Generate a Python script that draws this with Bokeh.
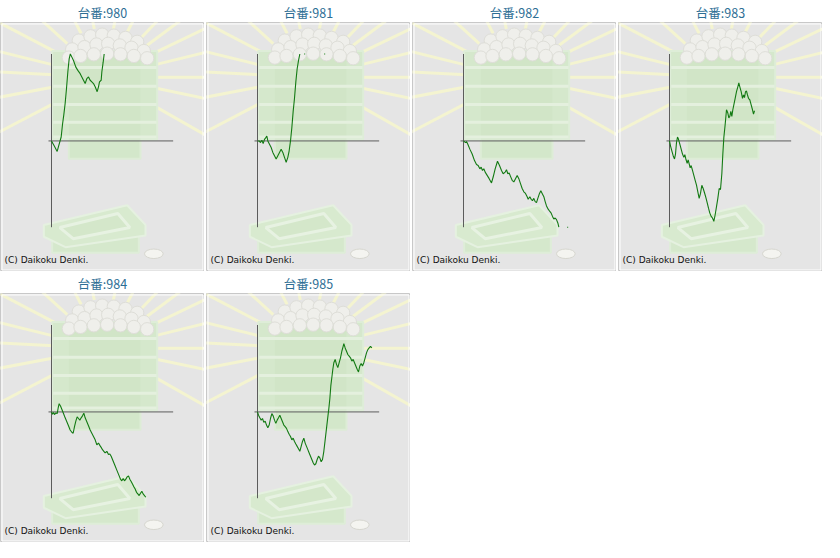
import math
import numpy as np
from bokeh.plotting import figure
from bokeh.layouts import row, column
from bokeh.models import Range1d, Label
from bokeh.embed import file_html
from bokeh.resources import INLINE

NaN = float("nan")

# ---------------- data (games on x, coin difference on y) ----------------
machines = ["980", "981", "982", "983", "984", "985"]

games_980 = [0, 160, 340, 460, 580, 660, 740, 820, 900, 980, 1060, 1130, 1180, 1320, 1460, 1580, 1720,
             1820, 1920, 2020, 2120, 2220, 2320, 2420, 2520, 2620, 2740, 2820, 2880, 2980, 3020, 3100, 3160]
coins_980 = [0, -300, -640, -200, 240, 1000, 1600, 2300, 3200, 4200, 5000, 5300, 5200, 4900, 4500, 4300, 4100,
             3900, 3700, 3500, 3800, 3900, 3700, 3600, 3500, 3300, 3000, 3300, 3600, 3700, 4200, 4800, 5300]

games_981 = [0, 100, 180, 260, 340, 420, 500, 560, 620, 720, 820, 920, 1020, 1120, 1220, 1320, 1420, 1520,
             1620, 1720, 1820, 1900, 1980, 2060, 2140, 2220, 2300, 2380, 2460, 2540, NaN, 2800, 2860, NaN,
             4000, 4060]
coins_981 = [0, 0, -100, 40, -160, 100, 200, 300, 0, -200, -400, -700, -900, -1100, -900, -700, -500, -700,
             -1000, -1300, -1000, -600, 0, 800, 1800, 2600, 3600, 4400, 4900, 5300, NaN, 5300, 5300, NaN,
             5300, 5300]

games_982 = [0, 120, 180, 260, 380, 520, 660, 780, 880, 980, 1060, 1140, 1220, 1300, 1420, 1540, 1680, 1780,
             1900, 2040, 2160, 2280, 2380, 2500, 2580, 2660, 2740, 2820, 2920, 3020, 3120, 3220, 3320, 3420,
             3520, 3620, 3720, 3820, 3880, 3980, 4060, 4140, 4220, 4300, 4380, 4460, 4560, 4640, 4720, 4820,
             4900, 4980, 5080, 5180, 5260, 5340, 5420, 5500, 5580, 5660, 5720, NaN, 6220, 6280]
coins_982 = [0, -100, -40, -200, -500, -800, -1200, -1440, -1500, -1700, -1600, -1800, -1700, -1900, -2100,
             -2300, -2560, -2200, -1700, -1240, -1500, -1800, -2000, -1900, -1760, -2000, -1960, -2160, -2400,
             -2500, -2300, -2100, -2300, -2600, -2900, -3100, -3200, -3400, -3560, -3400, -3560, -3640, -3500,
             -3700, -3760, -3500, -3200, -3040, -3200, -3400, -3700, -3960, -4160, -4300, -4400, -4600, -4760,
             -4700, -4800, -5000, -5260, NaN, -5260, -5260]

games_983 = [0, 60, 140, 220, 300, 360, 420, 480, 540, 620, 700, 780, 860, 920, 980, 1060, 1120, 1180, 1240,
             1300, 1380, 1460, 1540, 1620, 1700, 1780, 1860, 1940, 2020, 2100, 2180, 2260, 2340, 2420, 2500,
             2580, 2660, 2740, 2820, 2900, 2980, 3060, 3140, 3200, 3260, 3340, 3420, 3500, 3560, 3620, 3680,
             3740, 3800, 3860, 3940, 4020, 4100, 4160, 4220, 4300, 4380, 4440, 4500, 4560, 4620, 4680, 4740,
             4820, 4900, 4980, 5040, 5100]
coins_983 = [0, -300, -600, -900, -1100, -800, -100, 240, 100, -200, -500, -800, -1000, -840, -1100, -1360,
             -1160, -1400, -1640, -1500, -1800, -2100, -2400, -2700, -3100, -3500, -3200, -2700, -2900, -3160,
             -3440, -3760, -4100, -4400, -4600, -4700, -4900, -4500, -4000, -3500, -2900, -2960, -2000, -800,
             200, 1000, 1900, 1700, 1400, 1500, 1800, 1500, 1900, 2200, 2600, 3000, 3300, 3540, 3300, 3000,
             2600, 2800, 2640, 3000, 3040, 2800, 2600, 2500, 2200, 1900, 1640, 1840]

games_984 = [0, 60, 120, 180, 260, 340, 400, 460, 540, 620, 720, 820, 920, 1020, 1120, 1220, 1300, 1380, 1460,
             1540, 1620, 1700, 1780, 1860, 1940, 2020, 2120, 2220, 2320, 2420, 2520, 2620, 2720, 2820, 2900,
             2980, 3060, 3140, 3220, 3320, 3420, 3500, 3580, 3660, 3740, 3820, 3900, 3980, 4060, 4140, 4220,
             4300, 4380, 4460, 4540, 4620, 4700, 4780, 4860, 4940, 5020, 5100, 5180, 5260, 5340, 5420, 5500,
             5580, 5660]
coins_984 = [0, -140, -40, -160, -60, -100, 240, 500, 360, 160, -100, -360, -600, -840, -1100, -1240, -1300,
             -900, -560, -300, -400, -500, -360, -240, -80, -360, -600, -840, -1100, -1300, -1500, -1700, -2000,
             -1900, -2040, -2160, -2300, -2400, -2500, -2400, -2600, -2560, -2700, -2900, -3100, -3300, -3500,
             -3700, -3900, -4100, -4200, -4060, -4200, -4100, -3960, -3900, -4100, -4240, -4400, -4560, -4700,
             -4900, -5000, -5100, -4960, -4840, -5000, -5100, -5200]

games_985 = [0, 60, 140, 220, 300, 380, 460, 540, 620, 700, 780, 860, 940, 1020, 1100, 1180, 1260, 1340, 1420,
             1500, 1580, 1660, 1740, 1820, 1900, 1980, 2060, 2140, 2220, 2300, 2380, 2460, 2540, 2620, 2700,
             2780, 2860, 2940, 3020, 3100, 3180, 3260, 3340, 3420, 3500, 3580, 3660, 3740, 3820, 3900, 3980,
             4060, 4140, 4220, 4280, 4340, 4400, 4460, 4520, 4580, 4660, 4740, 4820, 4900, 4980, 5060, 5140,
             5180, 5260, 5340, 5420, 5500, 5580, 5660, 5740, 5820, 5900, 5980, 6060, 6140, 6220, 6300, 6380,
             6460, 6540, 6620, 6700, 6780, 6860]
coins_985 = [0, -200, -360, -500, -400, -640, -560, -800, -960, -800, -400, -100, -240, -500, -700, -500, -360,
             -200, -400, -600, -800, -900, -1000, -1200, -1360, -1500, -1700, -1600, -1800, -1960, -2100, -2240,
             -2400, -2100, -1800, -1600, -1900, -2100, -2300, -2500, -2700, -2900, -3100, -3240, -3160, -2900,
             -2700, -2800, -3040, -2900, -2400, -1700, -1000, -300, 200, 800, 1600, 2100, 2600, 3000, 3200,
             2900, 2700, 3000, 3300, 3700, 4000, 4160, 3900, 3700, 3500, 3400, 3300, 3100, 3200, 3000, 2800,
             2600, 2440, 2800, 2960, 2800, 3000, 3300, 3600, 3800, 3900, 4000, 3900]

series = {
    "980": (games_980, coins_980), "981": (games_981, coins_981), "982": (games_982, coins_982),
    "983": (games_983, coins_983), "984": (games_984, coins_984), "985": (games_985, coins_985),
}

# ---------------- scales ----------------
X_AXIS_START, X_MAX = -180, 7300     # horizontal axis extent (games)
Y_MIN, Y_MAX = -5260, 5300           # vertical axis extent (coins)
PX = 60                              # units per screen pixel (both axes)
PANEL_W, PANEL_H, TITLE_H = 204, 253, 18
X0 = -51 * PX
X1 = X0 + PANEL_W * PX
Y1 = Y_MAX + 32 * PX
Y0 = Y1 - PANEL_H * PX

# ---------------- background art (pale pachinko-box picture) ----------------
def ax(v):
    return X0 + (v - 10) * PX / 3.0

def ay(v):
    return Y1 - (v - 63) * PX / 3.0

RAY_CENTER = (320, 230)
RAY_ANGLES = [-30, -12, 0, 14, 26, 37, 47, 63, 79, 101, 117, 137, 152, 166, 177, 191, 208]
BALLS = [(245, 118), (280, 105), (315, 100), (350, 103), (385, 110), (420, 122),
         (225, 145), (262, 138), (298, 130), (333, 128), (368, 133), (403, 140), (440, 150),
         (215, 170), (250, 165), (290, 160), (330, 158), (370, 160), (410, 165), (450, 172)]
TRAY_LINES = [200, 257, 313, 367, 412]
TRAY_OUTER = [(140, 680), (390, 620), (445, 680), (445, 712), (205, 748), (140, 716)]
TRAY_INNER = [(188, 688), (362, 645), (398, 688), (228, 722)]


def draw_art(p):
    cx, cy = ax(RAY_CENTER[0]), ay(RAY_CENTER[1])
    r0, r1 = 3000, 20000
    a = [math.radians(d) for d in RAY_ANGLES]
    p.segment(x0=[cx + r0 * math.cos(t) for t in a], y0=[cy + r0 * math.sin(t) for t in a],
              x1=[cx + r1 * math.cos(t) for t in a], y1=[cy + r1 * math.sin(t) for t in a],
              line_color="#f4f4d0", line_width=3)
    # base of the stack and the stacked trays
    p.quad(left=[ax(215)], right=[ax(430)], top=[ay(410)], bottom=[ay(478)],
           fill_color="#d3e7ca", line_color="#ddecd6", line_width=2)
    p.quad(left=[ax(165)], right=[ax(480)], top=[ay(150)], bottom=[ay(420)],
           fill_color="#d5e8cc", line_color="#deedd8", line_width=2)
    p.quad(left=[ax(215)], right=[ax(430)], top=[ay(150)], bottom=[ay(420)],
           fill_color="#d1e5c7", line_color=None)
    p.segment(x0=[ax(168)] * 5, y0=[ay(v) for v in TRAY_LINES],
              x1=[ax(478)] * 5, y1=[ay(v) for v in TRAY_LINES],
              line_color="#e4f0de", line_width=3)
    p.circle(x=[ax(b[0]) for b in BALLS], y=[ay(b[1]) for b in BALLS], radius=400,
             fill_color="#efefeb", line_color="#deded8", line_width=1)
    # tray at the bottom
    p.quad(left=[ax(165)], right=[ax(425)], top=[ay(712)], bottom=[ay(765)],
           fill_color="#d5e8cc", line_color="#deedd8", line_width=2)
    p.patches(xs=[[ax(q[0]) for q in TRAY_OUTER]], ys=[[ay(q[1]) for q in TRAY_OUTER]],
              fill_color="#d8eacf", line_color="#e5f1e0", line_width=2)
    p.patches(xs=[[ax(q[0]) for q in TRAY_INNER]], ys=[[ay(q[1]) for q in TRAY_INNER]],
              fill_color="#d4e7ca", line_color="#e7f2e2", line_width=3)
    # coin
    p.ellipse(x=[ax(470)], y=[ay(768)], width=1120, height=580,
              fill_color="#f4f4f0", line_color="#d6d6cf", line_width=1)


def make_panel(mid):
    p = figure(width=PANEL_W, height=PANEL_H + TITLE_H,
               x_range=Range1d(X0, X1), y_range=Range1d(Y0, Y1),
               toolbar_location=None, output_backend="svg",
               x_axis_location=None, y_axis_location=None,
               min_border_left=0, min_border_right=0, min_border_bottom=0,
               min_border_top=TITLE_H, title="台番:" + mid)
    p.grid.visible = False
    p.background_fill_color = "#e5e5e5"
    p.border_fill_color = "white"
    p.outline_line_color = "#c8c8c8"
    p.title.align = "center"
    p.title.text_color = "#2d6e95"
    p.title.text_font = "Noto Sans CJK JP"
    p.title.text_font_size = "12.5px"
    p.title.text_font_style = "normal"
    p.title.standoff = 1
    p.title.offset = 0

    draw_art(p)
    # white inner frame of the picture
    p.quad(left=[X0 + 1.5 * PX], right=[X1 - 1.5 * PX], top=[Y1 - 1.5 * PX], bottom=[Y0 + 1.5 * PX],
           fill_color=None, line_color="white", line_width=1)

    # axes of the slump graph
    p.segment(x0=[0, X_AXIS_START], y0=[Y_MIN, 0], x1=[0, X_MAX], y1=[Y_MAX, 0],
              line_color="#5c5c5c", line_width=1)

    g, c = series[mid]
    p.line(np.array(g, dtype=float), np.array(c, dtype=float), line_color="#137a13", line_width=1.1)

    p.add_layout(Label(x=ax(22), y=ay(788), text="(C) Daikoku Denki.", text_font="DejaVu Sans",
                       text_font_size="9px", text_color="#111111", text_baseline="alphabetic"))
    return p


panels = [make_panel(m) for m in machines]
layout = column(row(*panels[:4], spacing=2), row(*panels[4:], spacing=2), spacing=0)

open("out.html", "w").write(file_html(layout, INLINE))
